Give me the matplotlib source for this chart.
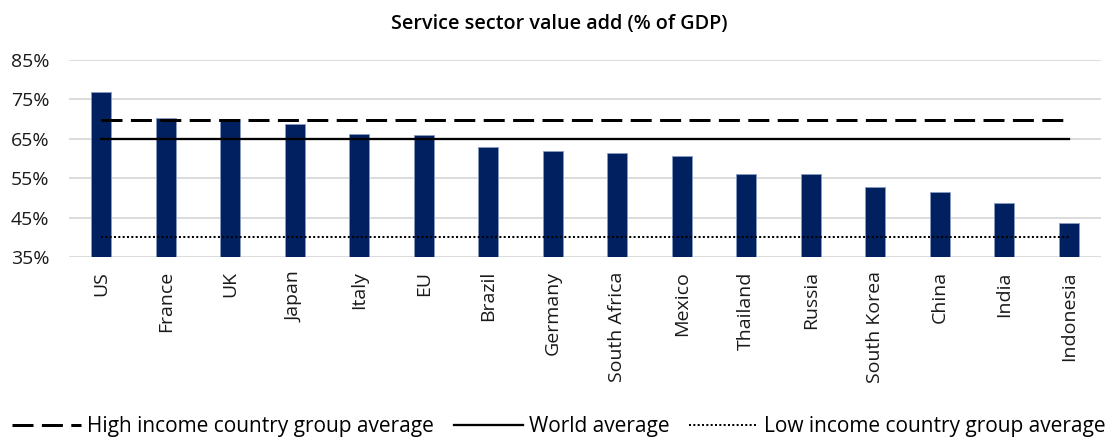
import matplotlib
matplotlib.use("Agg")
import matplotlib.pyplot as plt
from matplotlib.lines import Line2D
import numpy as np

countries = ["US", "France", "UK", "Japan", "Italy", "EU", "Brazil", "Germany",
             "South Africa", "Mexico", "Thailand", "Russia", "South Korea",
             "China", "India", "Indonesia"]
values = [77.0, 70.3, 70.1, 68.8, 66.2, 65.9, 63.0, 61.9,
          61.5, 60.8, 56.2, 56.1, 52.8, 51.6, 48.7, 43.6]
high_income_avg = 69.8
world_avg = 65.1
low_income_avg = 40.2
yticks = [35, 45, 55, 65, 75, 85]

plt.rcParams['font.family'] = ['Open Sans', 'DejaVu Sans']

fig = plt.figure(figsize=(11.18, 4.4), dpi=100)
ax = fig.add_axes([0.0617, 0.4152, 0.9231, 0.4484])

dash_style = dict(color="black", lw=2.16, dashes=(7, 2.8))
solid_style = dict(color="black", lw=1.65)
dot_style = dict(color="black", lw=1.45, linestyle=(0, (1, 1.15)))

x = np.arange(len(countries))
ax.bar(x, values, width=0.31, color="#002060", edgecolor="#8a9cc4", linewidth=0.6, zorder=3)

ax.plot([x[0], x[-1]], [high_income_avg] * 2, zorder=4, **dash_style)
ax.plot([x[0], x[-1]], [world_avg] * 2, zorder=4, **solid_style)
ax.plot([x[0], x[-1]], [low_income_avg] * 2, zorder=4, **dot_style)

ax.set_xlim(-0.5, len(countries) - 0.5)
ax.set_ylim(35, 85)
ax.set_yticks(yticks)
ax.set_yticklabels([f"{t}%" for t in yticks], fontsize=14, color="#1a1a1a")
ax.set_xticks(x)
ax.set_xticklabels(countries, rotation=90, fontsize=14, color="#1a1a1a")
ax.tick_params(axis="y", length=0, pad=14)
ax.tick_params(axis="x", length=0, pad=10)
ax.grid(axis="y", color="#d9d9d9", lw=1.3, zorder=0)
for s in ax.spines.values():
    s.set_visible(False)

fig.text(0.5, 0.945, "Service sector value add (% of GDP)", ha="center", va="center",
         fontsize=14.2, color="black", fontweight="semibold")

handles = [
    Line2D([], [], **dash_style),
    Line2D([], [], **solid_style),
    Line2D([], [], **dot_style),
]
labels = ["High income country group average", "World average",
          "Low income country group average"]
fig.legend(handles, labels, loc="center", bbox_to_anchor=(0.5, 0.03), ncol=3,
           frameon=False, fontsize=15, handlelength=3.3, handletextpad=0.29,
           columnspacing=0.96, borderpad=0, borderaxespad=0)

fig.savefig("out.png", dpi=100)
